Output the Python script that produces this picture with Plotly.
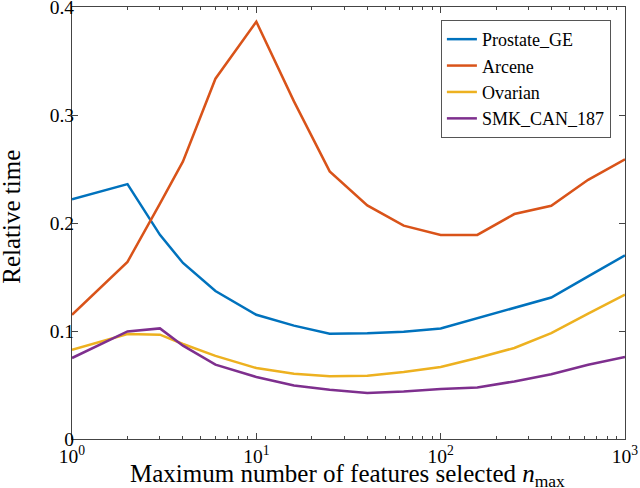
import plotly.graph_objects as go

# number of features (rounded logspace 1..1000)
n_max = [1, 2, 3, 4, 6, 10, 16, 25, 40, 63, 100, 158, 251, 398, 631, 1000]

prostate_ge = [0.222, 0.236, 0.189, 0.163, 0.137, 0.115, 0.105, 0.0975, 0.098,
               0.0993, 0.1024, 0.112, 0.121, 0.131, 0.1506, 0.170]
arcene = [0.115, 0.164, 0.218, 0.257, 0.3336, 0.3864, 0.3126, 0.2478, 0.2163,
          0.1975, 0.189, 0.189, 0.2083, 0.216, 0.240, 0.259]
ovarian = [0.0827, 0.0972, 0.0966, 0.088, 0.077, 0.0657, 0.0605, 0.058, 0.0586,
           0.062, 0.0667, 0.075, 0.0843, 0.098, 0.116, 0.1336]
smk_can_187 = [0.075, 0.0996, 0.1024, 0.0864, 0.0688, 0.0574, 0.0496, 0.0456, 0.0426,
               0.044, 0.0463, 0.0478, 0.0533, 0.060, 0.0688, 0.0759]

series = [("Prostate_GE", prostate_ge, "#0072BD"),
          ("Arcene", arcene, "#D95319"),
          ("Ovarian", ovarian, "#EDB120"),
          ("SMK_CAN_187", smk_can_187, "#7E2F8E")]

x_ticks = [1, 10, 100, 1000]
x_ticktext = ["10<sup>0</sup>", "10<sup>1</sup>", "10<sup>2</sup>", "10<sup>3</sup>"]
y_ticks = [0, 0.1, 0.2, 0.3, 0.4]
y_ticktext = ["0", "0.1", "0.2", "0.3", "0.4"]

FONT = "Liberation Serif"

fig = go.Figure()
for name, vals, col in series:
    fig.add_trace(go.Scatter(x=n_max, y=vals, name=name, mode="lines",
                             line=dict(color=col, width=2.5)))

minor_vals = [m * 10 ** d for d in range(3) for m in range(2, 10)]

fig.update_layout(
    width=640, height=488,
    margin=dict(l=72, r=15, t=7, b=49),
    paper_bgcolor="white", plot_bgcolor="white",
    font=dict(family=FONT, size=19, color="black"),
    legend=dict(x=0.9745, y=0.97, xanchor="right", yanchor="top",
                bgcolor="white", bordercolor="#555", borderwidth=1,
                font=dict(family=FONT, size=18, color="black"), tracegroupgap=0),
)
fig.update_xaxes(
    type="log", range=[0, 3], automargin=False, ticklabeloverflow="allow",
    tickmode="array", tickvals=x_ticks, ticktext=x_ticktext,
    tickfont=dict(family=FONT, size=19.5, color="black"),
    ticks="inside", ticklen=6, tickcolor="#444",
    minor=dict(ticks="inside", ticklen=3, tickcolor="#444", tickvals=minor_vals),
    showline=True, linecolor="#444", linewidth=1, mirror="ticks",
    showgrid=False, zeroline=False,
)
fig.update_yaxes(
    range=[0, 0.4], automargin=False, ticklabeloverflow="allow",
    ticklabelstandoff=-7,
    tickmode="array", tickvals=y_ticks, ticktext=y_ticktext,
    tickfont=dict(family=FONT, size=19.5, color="black"),
    ticks="inside", ticklen=6, tickcolor="#444",
    showline=True, linecolor="#444", linewidth=1, mirror="ticks",
    showgrid=False, zeroline=False,
)

fig.add_annotation(text="Maximum number of features selected <i>n</i><sub>max</sub>",
                   xref="paper", yref="paper", x=0.498, y=-0.043,
                   xanchor="center", yanchor="top", showarrow=False,
                   font=dict(family=FONT, size=25, color="black"))
fig.add_annotation(text="Relative time", textangle=-90,
                   xref="paper", yref="paper", x=-0.11, y=0.515,
                   xanchor="center", yanchor="middle", showarrow=False,
                   font=dict(family=FONT, size=25, color="black"))

# drop the default page margin so the figure sits at the window corner
fig.write_html("out.html", config={"displayModeBar": False},
               post_script="document.body.style.margin='0';")
